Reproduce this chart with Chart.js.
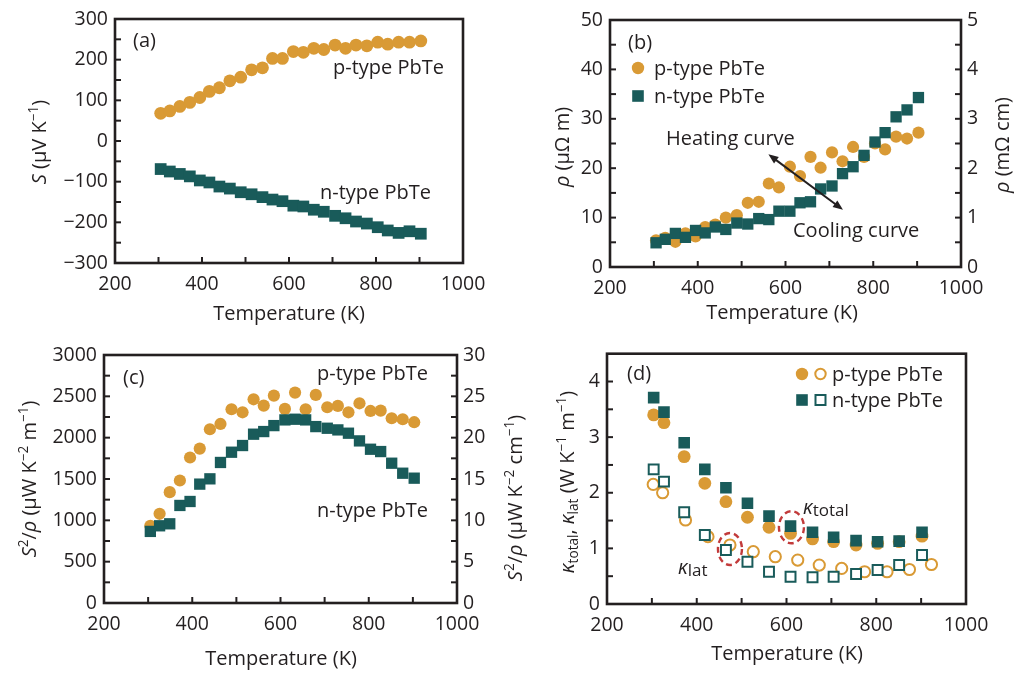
<!DOCTYPE html>
<html><head><meta charset="utf-8">
<script src="https://cdn.jsdelivr.net/npm/chart.js@4.4.0/dist/chart.umd.min.js"></script>
<style>
html,body{margin:0;padding:0;background:#fff;width:1015px;height:675px;overflow:hidden;position:relative}
canvas{position:absolute}
</style></head><body>
<canvas id="ca" width="500" height="335" style="left:0;top:0"></canvas>
<canvas id="cb" width="515" height="335" style="left:500px;top:0"></canvas>
<canvas id="cc" width="545" height="340" style="left:0;top:335px"></canvas>
<canvas id="cd" width="515" height="340" style="left:500px;top:335px"></canvas>
<script>
// ---------- data ----------
const temperature = [305,326,349,372,395,417,440,464,489,514,539,562,585,610,633,657,680,706,730,754,779,804,827,852,877,903];
const seebeckP = [68,74,85,95,107,122,131,148,157,175,180,203,203,220,218,228,225,236,228,236,234,243,238,243,243,246];
const seebeckN = [-69,-75,-81,-87,-97,-102,-112,-117,-126,-131,-138,-144,-148,-159,-161,-169,-174,-184,-190,-198,-203,-212,-220,-226,-222,-228];
const resistivityP = [5.4,5.9,5.1,6.8,6.2,8.1,8.6,10.0,10.5,13.0,13.2,16.9,16.1,20.3,18.4,22.3,20.1,23.2,21.4,24.3,22.3,25.0,23.8,26.4,26.0,27.2];
const resistivityN = [4.9,5.6,6.8,6.0,7.4,6.9,8.1,7.6,8.9,8.7,9.8,9.6,11.3,11.3,13.0,13.2,15.8,16.4,18.9,20.3,22.6,25.3,27.2,30.4,31.8,34.3];
const powerFactorP = [934,1079,1341,1482,1760,1868,2102,2166,2344,2307,2464,2388,2509,2348,2545,2344,2517,2368,2384,2307,2416,2323,2327,2235,2223,2187];
const powerFactorN = [866,934,958,1180,1228,1438,1502,1700,1824,1905,2042,2074,2146,2215,2223,2215,2134,2114,2094,2054,1961,1860,1832,1691,1570,1510];
const tempKappa = [304,327,372,418,465,513,561,609,658,705,755,803,851,902];
const tempKlatP = [303,324,375,425,474,526,575,625,673,723,774,824,874,923];
const kappaTotalP = [3.40,3.26,2.65,2.17,1.84,1.56,1.38,1.27,1.17,1.12,1.06,1.09,1.12,1.22];
const kappaTotalN = [3.71,3.45,2.90,2.42,2.09,1.81,1.58,1.40,1.29,1.20,1.14,1.12,1.13,1.29];
const kappaLatP = [2.15,2.00,1.51,1.21,1.06,0.94,0.85,0.79,0.70,0.64,0.58,0.58,0.62,0.71];
const kappaLatN = [2.42,2.20,1.65,1.24,0.97,0.76,0.58,0.49,0.48,0.49,0.54,0.61,0.70,0.88];
// tick labels
const tempTicks = [200,400,600,800,1000];
const seebeckTicks = [-300,-200,-100,0,100,200,300];
const rhoTicks = [0,10,20,30,40,50];
const rhoTicksCm = [0,1,2,3,4,5];
const pfTicks = [0,500,1000,1500,2000,2500,3000];
const pfTicksCm = [0,5,10,15,20,25,30];
const kappaTicks = [0,1,2,3,4];

// ---------- style ----------
const ORANGE = '#D99A35', TEAL = '#195B5A', INK = '#231f20', RED = '#C23A3A';
const FAM = "'Open Sans','DejaVu Sans',sans-serif";
const TICKFONT = {family: FAM, size: 19.5};

function pts(xs, ys){ return xs.map((x,i)=>({x, y: ys[i]})); }
function fmt(v){ return v < 0 ? '\u2212' + (-v) : String(v); }

function drawRich(ctx, segs, x, y, size, rot, align){
  let total = 0;
  const fnt = s => (s.it ? 'italic ' : '') + ((s.sup||s.sub) ? size*0.68 : size*(s.sz||1)) + 'px ' + FAM;
  segs.forEach(s => { ctx.font = fnt(s); s.w = ctx.measureText(s.t).width; total += s.w; });
  ctx.save();
  ctx.translate(x, y);
  if (rot) ctx.rotate(rot);
  ctx.fillStyle = INK; ctx.textBaseline = 'alphabetic'; ctx.textAlign = 'left';
  let cx = align === 'left' ? 0 : -total/2;
  segs.forEach(s => {
    ctx.font = fnt(s);
    const dy = s.sup ? -0.4*size : (s.sub ? 0.18*size : (s.dy||0));
    ctx.fillText(s.t, cx, 0.36*size + dy);
    cx += s.w;
  });
  ctx.restore();
}

function marker(ctx, kind, x, y, r, color, open){
  ctx.save();
  ctx.beginPath();
  if (kind === 'circle') ctx.arc(x, y, r, 0, Math.PI*2);
  else ctx.rect(x - r, y - r, 2*r, 2*r);
  if (open){ ctx.fillStyle = '#fff'; ctx.fill(); ctx.lineWidth = 2; ctx.strokeStyle = color; ctx.stroke(); }
  else { ctx.fillStyle = color; ctx.fill(); }
  ctx.restore();
}

function deco(extra){
  return {
    id: 'deco',
    afterDatasetsDraw(chart){
      const ctx = chart.ctx, a = chart.chartArea;
      const ox = extra.ox, oy = extra.oy;
      ctx.save();
      (extra.ellipses||[]).forEach(e => {
        const cx = chart.scales.x.getPixelForValue(e.x), cy = chart.scales.y.getPixelForValue(e.y);
        ctx.beginPath(); ctx.setLineDash([6,4]); ctx.lineWidth = 2.4; ctx.strokeStyle = RED;
        ctx.ellipse(cx, cy, e.rx, e.ry, 0, 0, Math.PI*2); ctx.stroke(); ctx.setLineDash([]);
      });
      (extra.arrows||[]).forEach(ar => {
        const x1 = chart.scales.x.getPixelForValue(ar.x1), y1 = chart.scales.y.getPixelForValue(ar.y1);
        const x2 = chart.scales.x.getPixelForValue(ar.x2), y2 = chart.scales.y.getPixelForValue(ar.y2);
        const ang = Math.atan2(y2-y1, x2-x1), L = 10, Wd = 4;
        ctx.strokeStyle = INK; ctx.fillStyle = INK; ctx.lineWidth = 2;
        ctx.beginPath();
        ctx.moveTo(x1 + Math.cos(ang)*L*0.8, y1 + Math.sin(ang)*L*0.8);
        ctx.lineTo(x2 - Math.cos(ang)*L*0.8, y2 - Math.sin(ang)*L*0.8); ctx.stroke();
        [[x1,y1,ang+Math.PI],[x2,y2,ang]].forEach(([hx,hy,d]) => {
          ctx.beginPath();
          ctx.moveTo(hx, hy);
          ctx.lineTo(hx - Math.cos(d)*L - Math.sin(d)*Wd, hy - Math.sin(d)*L + Math.cos(d)*Wd);
          ctx.lineTo(hx - Math.cos(d)*L + Math.sin(d)*Wd, hy - Math.sin(d)*L - Math.cos(d)*Wd);
          ctx.closePath(); ctx.fill();
        });
      });
      // inward tick marks (major + midpoints)
      ctx.strokeStyle = INK; ctx.lineWidth = 2;
      extra.tickSides.forEach(([id, side, majors]) => {
        const s = chart.scales[id];
        const vals = [];
        majors.forEach((v,i) => { vals.push(v); if (i < majors.length-1) vals.push((v + majors[i+1])/2); });
        vals.forEach(v => {
          const p = s.getPixelForValue(v);
          ctx.beginPath();
          if (side === 'bottom'){ ctx.moveTo(p, a.bottom); ctx.lineTo(p, a.bottom - 6); }
          else if (side === 'left'){ ctx.moveTo(a.left, p); ctx.lineTo(a.left + 6, p); }
          else { ctx.moveTo(a.right, p); ctx.lineTo(a.right - 6, p); }
          ctx.stroke();
        });
      });
      ctx.lineWidth = 2.6;
      ctx.strokeRect(a.left, a.top, a.right - a.left, a.bottom - a.top);
      (extra.legend||[]).forEach(m => marker(ctx, m.kind, m.x - ox, m.y - oy, m.r, m.color, m.open));
      (extra.texts||[]).forEach(t => drawRich(ctx, t.segs, t.x - ox, t.y - oy, t.size || 20, t.rot || 0, t.align || 'center'));
      ctx.restore();
    }
  };
}

function xScale(hgt){
  return {
    type: 'linear', min: 200, max: 1000,
    afterBuildTicks: s => { s.ticks = tempTicks.map(v => ({value: v})); },
    ticks: {font: TICKFONT, color: INK, padding: 10, maxRotation: 0, autoSkip: false, callback: v => fmt(v)},
    grid: {display: false, drawTicks: false}, border: {display: false},
    afterFit: s => { s.height = hgt; }
  };
}
function yScale(pos, min, max, ticks, wid, show){
  return {
    type: 'linear', position: pos, min, max,
    afterBuildTicks: s => { s.ticks = ticks.map(v => ({value: v})); },
    ticks: {display: show !== false, font: TICKFONT, color: INK, padding: pos === 'left' ? 7 : 6, autoSkip: false, callback: v => fmt(v)},
    grid: {display: false, drawTicks: false}, border: {display: false},
    afterFit: s => { s.width = wid; }
  };
}
function ds(label, xs, ys, style, r, color, order, open){
  return {label, data: pts(xs, ys), pointStyle: style, pointRadius: r, pointHoverRadius: r,
    backgroundColor: open ? '#fff' : color, borderColor: color, borderWidth: open ? 2 : 0,
    showLine: false, order};
}
function build(id, datasets, scales, T, extra){
  return new Chart(document.getElementById(id), {
    type: 'scatter',
    data: {datasets},
    options: {
      responsive: false, animation: false, devicePixelRatio: 1,
      layout: {padding: {top: T, left: 0, right: 0, bottom: 0}},
      plugins: {legend: {display: false}, tooltip: {enabled: false}},
      scales
    },
    plugins: [deco(extra)]
  });
}

// ---------- (a) Seebeck ----------
build('ca', [
  ds('n-type PbTe', temperature, seebeckN, 'rect', 8.3, TEAL, 0),
  ds('p-type PbTe', temperature, seebeckP, 'circle', 6.4, ORANGE, 1)
], {x: xScale(335-263), y: yScale('left', -300, 300, seebeckTicks, 115), yR: yScale('right', 0, 1, [0,1], 500-463, false)}, 19, {
  ox: 0, oy: 0,
  tickSides: [['x','bottom',tempTicks], ['y','left',seebeckTicks]],
  texts: [
    {segs: [{t:'(a)'}], x: 133, y: 40, align: 'left'},
    {segs: [{t:'p-type PbTe'}], x: 333, y: 67, align: 'left'},
    {segs: [{t:'n-type PbTe'}], x: 320, y: 192, align: 'left'},
    {segs: [{t:'S', it:1},{t:' (\u03bcV K'},{t:'\u22121', sup:1},{t:')'}], x: 39, y: 142, rot: -Math.PI/2},
    {segs: [{t:'Temperature (K)'}], x: 289, y: 313}
  ]
});

// ---------- (b) resistivity ----------
build('cb', [
  ds('n-type PbTe', temperature, resistivityN, 'rect', 8, TEAL, 0),
  ds('p-type PbTe', temperature, resistivityP, 'circle', 6.1, ORANGE, 1)
], {x: xScale(335-267), y: yScale('left', 0, 50, rhoTicks, 110), yR: yScale('right', 0, 5, rhoTicksCm, 515-461)}, 20, {
  ox: 500, oy: 0,
  tickSides: [['x','bottom',tempTicks], ['y','left',rhoTicks], ['yR','right',rhoTicksCm]],
  arrows: [{x1: 561, y1: 22.8, x2: 731, y2: 11.6}],
  legend: [
    {kind:'circle', x: 638, y: 68, r: 6.2, color: ORANGE},
    {kind:'rect', x: 638, y: 96, r: 5.8, color: TEAL}
  ],
  texts: [
    {segs: [{t:'(b)'}], x: 628, y: 42, align: 'left'},
    {segs: [{t:'p-type PbTe'}], x: 654, y: 68, align: 'left'},
    {segs: [{t:'n-type PbTe'}], x: 654, y: 96, align: 'left'},
    {segs: [{t:'Heating curve'}], x: 666, y: 138, align: 'left'},
    {segs: [{t:'Cooling curve'}], x: 793, y: 230, align: 'left'},
    {segs: [{t:'\u03c1', it:1},{t:' (\u03bc\u03a9 m)'}], x: 562, y: 147, rot: -Math.PI/2},
    {segs: [{t:'\u03c1', it:1},{t:' (m\u03a9 cm)'}], x: 1002, y: 145, rot: -Math.PI/2},
    {segs: [{t:'Temperature (K)'}], x: 782, y: 312}
  ]
});

// ---------- (c) power factor ----------
build('cc', [
  ds('n-type PbTe', temperature, powerFactorN, 'rect', 8, TEAL, 0),
  ds('p-type PbTe', temperature, powerFactorP, 'circle', 6.1, ORANGE, 1)
], {x: xScale(340-268), y: yScale('left', 0, 3000, pfTicks, 104), yR: yScale('right', 0, 30, pfTicksCm, 545-457)}, 20, {
  ox: 0, oy: 335,
  tickSides: [['x','bottom',tempTicks], ['y','left',pfTicks], ['yR','right',pfTicksCm]],
  texts: [
    {segs: [{t:'(c)'}], x: 123, y: 377, align: 'left'},
    {segs: [{t:'p-type PbTe'}], x: 317, y: 373, align: 'left'},
    {segs: [{t:'n-type PbTe'}], x: 317, y: 510, align: 'left'},
    {segs: [{t:'S', it:1},{t:'2', sup:1},{t:'/'},{t:'\u03c1', it:1},{t:' (\u03bcW K'},{t:'\u22122', sup:1},{t:' m'},{t:'\u22121', sup:1},{t:')'}], x: 29, y: 479, rot: -Math.PI/2},
    {segs: [{t:'S', it:1},{t:'2', sup:1},{t:'/'},{t:'\u03c1', it:1},{t:' (\u03bcW K'},{t:'\u22122', sup:1},{t:' cm'},{t:'\u22121', sup:1},{t:')'}], x: 515, y: 498, rot: -Math.PI/2},
    {segs: [{t:'Temperature (K)'}], x: 281, y: 658}
  ]
});

// ---------- (d) thermal conductivity ----------
build('cd', [
  ds('n-type PbTe total', tempKappa, kappaTotalN, 'rect', 8.2, TEAL, 0),
  ds('p-type PbTe total', tempKappa, kappaTotalP, 'circle', 6.4, ORANGE, 1),
  ds('n-type PbTe lattice', tempKappa, kappaLatN, 'rect', 7, TEAL, 2, true),
  ds('p-type PbTe lattice', tempKlatP, kappaLatP, 'circle', 5.6, ORANGE, 3, true)
], {x: xScale(340-269), y: yScale('left', 0, 4.5, kappaTicks, 107), yR: yScale('right', 0, 1, [0,1], 515-466, false)}, 18, {
  ox: 500, oy: 335,
  tickSides: [['x','bottom',tempTicks], ['y','left',kappaTicks]],
  ellipses: [{x: 474, y: 0.99, rx: 12, ry: 16}, {x: 611, y: 1.38, rx: 12.5, ry: 16}],
  legend: [
    {kind:'circle', x: 802, y: 374, r: 6.2, color: ORANGE},
    {kind:'circle', x: 820.5, y: 374, r: 5.2, color: ORANGE, open: true},
    {kind:'rect', x: 802, y: 400, r: 5.8, color: TEAL},
    {kind:'rect', x: 820.5, y: 400, r: 5, color: TEAL, open: true}
  ],
  texts: [
    {segs: [{t:'(d)'}], x: 627, y: 373, align: 'left'},
    {segs: [{t:'p-type PbTe'}], x: 832, y: 374, align: 'left'},
    {segs: [{t:'n-type PbTe'}], x: 832, y: 400, align: 'left'},
    {segs: [{t:'\u03ba', it:1},{t:'total', sz:0.85, dy:2}], x: 803, y: 507, align: 'left'},
    {segs: [{t:'\u03ba', it:1},{t:'lat', sz:0.85, dy:2}], x: 678, y: 567, align: 'left'},
    {segs: [{t:'\u03ba', it:1},{t:'total', sub:1},{t:', '},{t:'\u03ba', it:1},{t:'lat', sub:1},{t:' (W K'},{t:'\u22121', sup:1},{t:' m'},{t:'\u22121', sup:1},{t:')'}], x: 567, y: 482, rot: -Math.PI/2},
    {segs: [{t:'Temperature (K)'}], x: 787, y: 653}
  ]
});
</script>
</body></html>
